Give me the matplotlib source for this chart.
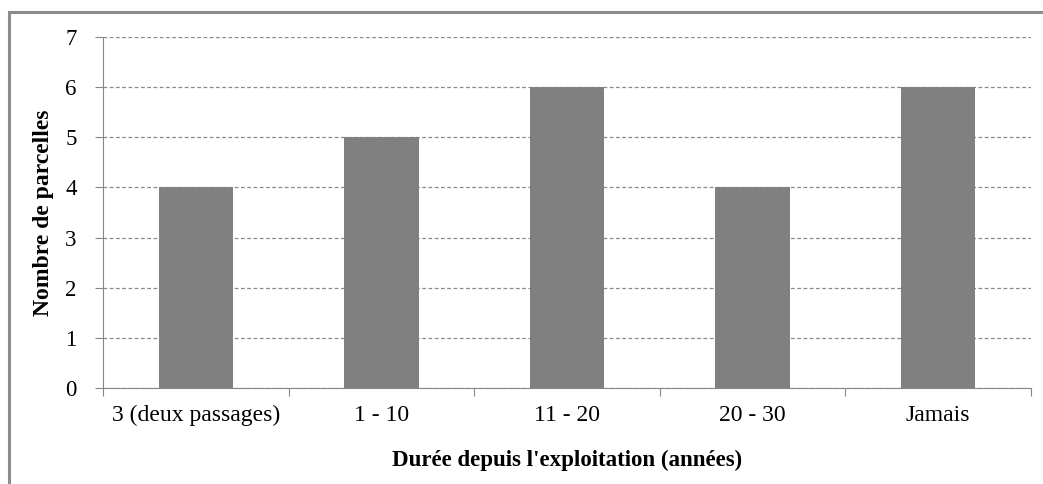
import numpy as np
import matplotlib.pyplot as plt
from matplotlib.patches import Rectangle

# データ
categories = ["3 (deux passages)", "1 - 10", "11 - 20", "20 - 30", "Jamais"]
values = [4, 5, 6, 4, 6]

plt.rcParams['font.family'] = ['Liberation Serif', 'DejaVu Serif']

fig = plt.figure(figsize=(10.43, 4.84), dpi=100)
ax = fig.add_axes([103 / 1043, 1 - 388 / 484, (1031 - 103) / 1043, (388 - 37) / 484])

# 外枠 (左と上のみ見える)
fig.patches.append(Rectangle((9 / 1043, -0.1), 1.2, 1 - 12 / 484 + 0.1,
                             transform=fig.transFigure, fill=False,
                             edgecolor="#8c8c8c", linewidth=2.2))

x = np.arange(len(categories))
ax.bar(x, values, width=0.4, color="#808080", zorder=3)

ax.set_xlim(-0.5, len(categories) - 0.5)
ax.set_ylim(0, 7)
ax.set_yticks(range(0, 8))
ax.yaxis.grid(True, linestyle=(0, (3, 2)), color="#8a8a8a", linewidth=0.9)
ax.set_axisbelow(True)

# x軸の目盛はカテゴリの境界
ax.set_xticks(np.arange(-0.5, len(categories), 1.0))
ax.set_xticklabels([])
ax.set_xticks(x, minor=True)
ax.set_xticklabels(categories, minor=True, fontsize=17)
ax.tick_params(axis="x", which="minor", length=0, pad=12)
ax.tick_params(axis="x", which="major", length=6, color="#868686", direction="out")
ax.tick_params(axis="y", length=6, color="#868686", labelsize=16.5, pad=13)

for s in ["top", "right"]:
    ax.spines[s].set_visible(False)
for s in ["left", "bottom"]:
    ax.spines[s].set_color("#868686")

ax.set_xlabel("Durée depuis l'exploitation (années)", fontsize=16.5, fontweight="bold", labelpad=17)
ax.set_ylabel("Nombre de parcelles", fontsize=17, fontweight="bold", labelpad=8)

fig.savefig("out.png", dpi=100)
